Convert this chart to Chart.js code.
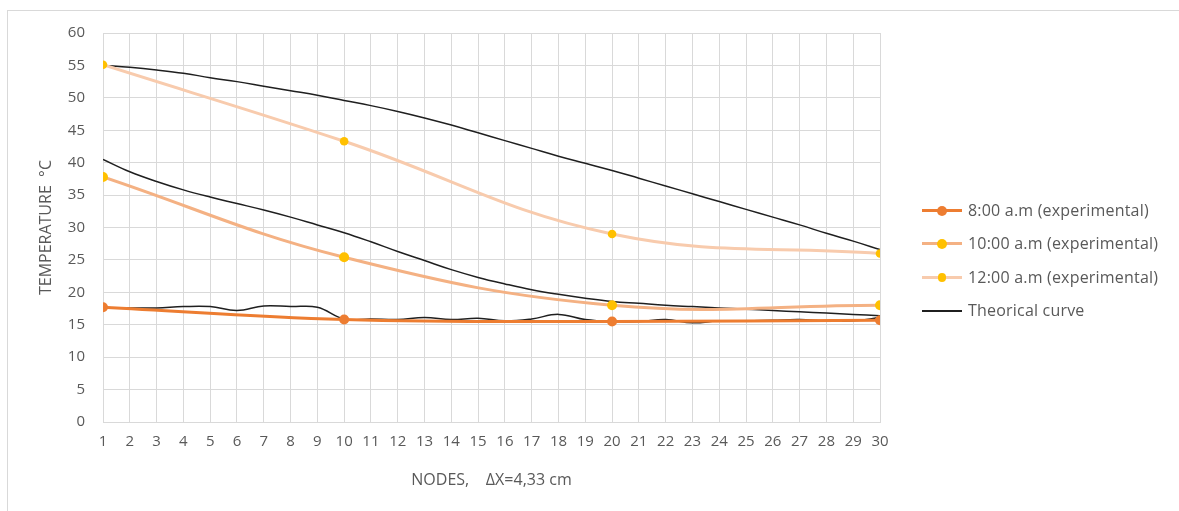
<!DOCTYPE html>
<html>
<head>
<meta charset="utf-8">
<script src="https://cdn.jsdelivr.net/npm/chart.js@4.4.1/dist/chart.umd.min.js"></script>
<style>
  html, body { margin: 0; padding: 0; background: #fff; }
  #wrap { position: relative; width: 1179px; height: 511px; overflow: hidden; font-family: "Open Sans", sans-serif; }
  #frame { position: absolute; left: 7px; top: 10px; right: -2px; bottom: -2px; border-top: 1px solid #d9d9d9; border-left: 1px solid #d9d9d9; }
  #c { position: absolute; left: 0; top: 0; }
  #legend { position: absolute; left: 922px; top: 0; }
  .item { position: absolute; left: 0; height: 20px; white-space: nowrap; }
  .ln { position: absolute; left: 0; width: 40px; top: 9px; }
  .dot { position: absolute; border-radius: 50%; }
  .txt { position: absolute; left: 46px; top: -1px; font-size: 16px; line-height: 22px; color: #595959; letter-spacing: 0.2px; }
</style>
</head>
<body>
<div id="wrap">
  <div id="frame"></div>
  <canvas id="c" width="1179" height="511"></canvas>
  <div id="legend"></div>
</div>
<script>
const nodes = [1,2,3,4,5,6,7,8,9,10,11,12,13,14,15,16,17,18,19,20,21,22,23,24,25,26,27,28,29,30];
const expNodes = [1, 10, 20, 30];
const exp800  = [17.7, 15.8, 15.5, 15.7];
const exp1000 = [37.8, 25.4, 18.0, 18.0];
const exp1200 = [55.1, 43.3, 29.0, 26.0];
const theory800  = [17.6,17.6,17.6,17.8,17.8,17.2,17.9,17.8,17.7,15.9,15.9,15.8,16.1,15.8,16.0,15.6,15.9,16.6,15.8,15.5,15.5,15.8,15.3,15.6,15.6,15.7,15.8,15.6,15.6,16.1];
const theory1000 = [40.5,38.6,37.1,35.8,34.7,33.7,32.7,31.6,30.4,29.2,27.8,26.3,24.9,23.5,22.3,21.3,20.4,19.7,19.1,18.6,18.3,18.0,17.8,17.6,17.4,17.2,17.0,16.8,16.6,16.4];
const theory1200 = [55.0,54.7,54.3,53.8,53.1,52.5,51.8,51.1,50.4,49.6,48.8,47.9,46.9,45.8,44.6,43.4,42.2,41.0,39.9,38.8,37.6,36.4,35.2,34.0,32.8,31.6,30.4,29.1,27.9,26.6];
const seriesLabels = ["8:00 a.m (experimental)", "10:00 a.m (experimental)", "12:00 a.m (experimental)", "Theorical curve"];
const xTitle = "NODES,    \u0394X=4,33 cm";
const yTitle = "TEMPERATURE  \u00B0C";

const pts = (xs, ys) => xs.map((x, i) => ({x: x, y: ys[i]}));

const expStyles = [
  {line: '#ED7D31', dot: '#ED7D31', r: 5},
  {line: '#F4B183', dot: '#FFC000', r: 5},
  {line: '#F8CBAD', dot: '#FFC000', r: 4.3}
];
const expData = [exp800, exp1000, exp1200];
const datasets = expData.map((d, i) => ({
  label: seriesLabels[i],
  data: pts(expNodes, d),
  borderColor: expStyles[i].line,
  backgroundColor: expStyles[i].dot,
  pointBackgroundColor: expStyles[i].dot,
  pointBorderColor: expStyles[i].dot,
  pointRadius: expStyles[i].r,
  pointBorderWidth: 0,
  borderWidth: 3,
  tension: 0.4,
  fill: false
}));
[theory800, theory1000, theory1200].forEach((d, i) => {
  datasets.push({
    label: i === 0 ? seriesLabels[3] : seriesLabels[3] + ' ' + (i + 1),
    data: pts(nodes, d),
    borderColor: '#1f1f1f',
    borderWidth: 1.5,
    pointRadius: 0,
    tension: 0.4,
    fill: false
  });
});

const tickFont = {family: '"Open Sans", sans-serif', size: 15};
const titleFont = {family: '"Open Sans", sans-serif', size: 16};
new Chart(document.getElementById('c'), {
  type: 'line',
  data: {datasets: datasets},
  options: {
    responsive: false,
    animation: false,
    devicePixelRatio: 1,
    layout: {padding: {left: 0, top: 33, right: 299, bottom: 0}},
    plugins: {legend: {display: false}, tooltip: {enabled: false}},
    scales: {
      x: {
        type: 'linear', min: 1, max: 30,
        ticks: {stepSize: 1, color: '#595959', font: tickFont, padding: 11, maxRotation: 0, autoSkip: false},
        grid: {color: '#d9d9d9', lineWidth: 1, drawTicks: false},
        border: {color: '#d9d9d9', width: 1},
        title: {display: true, text: xTitle, color: '#595959', font: titleFont, padding: {top: 0, bottom: 21}},
        afterFit: s => { s.height = 89; }
      },
      y: {
        min: 0, max: 60,
        ticks: {stepSize: 5, color: '#595959', font: tickFont, padding: 18},
        grid: {color: '#d9d9d9', lineWidth: 1, drawTicks: false},
        border: {color: '#d9d9d9', width: 1},
        title: {display: true, text: yTitle, color: '#595959', font: titleFont, padding: {top: 37, bottom: 0}},
        afterFit: s => { s.width = 103; }
      }
    }
  }
});

// HTML legend built from the datasets
const legend = document.getElementById('legend');
const rowsY = [200, 233, 267, 300];
seriesLabels.forEach((lab, i) => {
  const item = document.createElement('div');
  item.className = 'item';
  item.style.top = rowsY[i] + 'px';
  const ln = document.createElement('div');
  ln.className = 'ln';
  if (i < 3) {
    ln.style.height = '3px';
    ln.style.top = '9px';
    ln.style.background = expStyles[i].line;
    item.appendChild(ln);
    const dot = document.createElement('div');
    dot.className = 'dot';
    const r = expStyles[i].r;
    dot.style.width = dot.style.height = (2 * r) + 'px';
    dot.style.left = (20 - r) + 'px';
    dot.style.top = (10.5 - r) + 'px';
    dot.style.background = expStyles[i].dot;
    item.appendChild(dot);
  } else {
    ln.style.height = '1.5px';
    ln.style.top = '10px';
    ln.style.background = '#1f1f1f';
    item.appendChild(ln);
  }
  const t = document.createElement('div');
  t.className = 'txt';
  t.textContent = lab;
  item.appendChild(t);
  legend.appendChild(item);
});
</script>
</body>
</html>
